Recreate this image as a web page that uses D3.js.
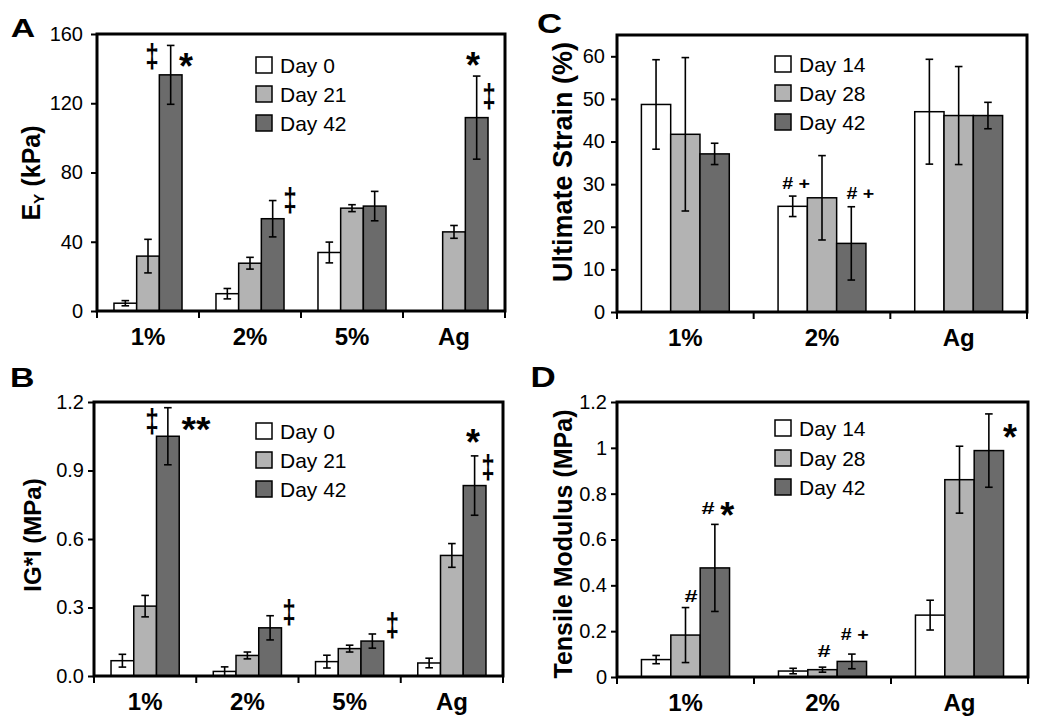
<!DOCTYPE html>
<html>
<head>
<meta charset="utf-8">
<script src="https://cdn.jsdelivr.net/npm/d3@7"></script>
<style>
  html, body { margin: 0; padding: 0; background: #fff; }
  svg { display: block; font-family: "Liberation Sans", Arial, sans-serif; }
</style>
</head>
<body>
<svg id="chart" width="1050" height="722"></svg>
<script>
// ---------------- DATA ----------------
// Panel A: Young's modulus E_Y (kPa)
const catsA = ["1%", "2%", "5%", "Ag"];
const seriesA = ["Day 0", "Day 21", "Day 42"];
const valuesA = [
  [4.5, 10, 33.8, null],
  [31.7, 27.6, 59.4, 45.7],
  [136.4, 53.3, 60.6, 111.7]
];
const errorsA = [
  [1.5, 3, 6, null],
  [9.7, 3.4, 2, 3.7],
  [17, 10.5, 8.5, 24]
];
const ticksA = [0, 40, 80, 120, 160];

// Panel B: |G*| (MPa)
const catsB = ["1%", "2%", "5%", "Ag"];
const seriesB = ["Day 0", "Day 21", "Day 42"];
const valuesB = [
  [0.067, 0.02, 0.063, 0.057],
  [0.306, 0.09, 0.12, 0.528],
  [1.05, 0.211, 0.153, 0.834]
];
const errorsB = [
  [0.028, 0.02, 0.028, 0.021],
  [0.047, 0.015, 0.015, 0.052],
  [0.125, 0.053, 0.031, 0.13]
];
const ticksB = [0, 0.3, 0.6, 0.9, 1.2];

// Panel C: Ultimate strain (%)
const catsC = ["1%", "2%", "Ag"];
const seriesC = ["Day 14", "Day 28", "Day 42"];
const valuesC = [
  [48.7, 24.8, 47.0],
  [41.7, 26.8, 46.1],
  [37.1, 16.1, 46.1]
];
const errorsC = [
  [10.5, 2.4, 12.3],
  [18, 9.9, 11.5],
  [2.5, 8.6, 3.1]
];
const ticksC = [0, 10, 20, 30, 40, 50, 60];

// Panel D: Tensile modulus (MPa)
const catsD = ["1%", "2%", "Ag"];
const seriesD = ["Day 14", "Day 28", "Day 42"];
const valuesD = [
  [0.076, 0.026, 0.27],
  [0.183, 0.032, 0.861],
  [0.476, 0.068, 0.988]
];
const errorsD = [
  [0.018, 0.012, 0.065],
  [0.12, 0.011, 0.146],
  [0.19, 0.032, 0.16]
];
const ticksD = [0, 0.2, 0.4, 0.6, 0.8, 1, 1.2];

// Significance markers: category, slot (bar index, fractional), y in data units (glyph centre)
const marksA = [
  {cat: "1%", slot: 1.18, y: 147.3, sym: "‡"},
  {cat: "1%", slot: 2.68, y: 144.4, sym: "*"},
  {cat: "2%", slot: 2.76, y: 64.1, sym: "‡"},
  {cat: "Ag", slot: 1.84, y: 145, sym: "*"},
  {cat: "Ag", slot: 2.54, y: 124.2, sym: "‡"}
];
const marksB = [
  {cat: "1%", slot: 1.30, y: 1.117, sym: "‡"},
  {cat: "1%", slot: 3.24, y: 1.104, sym: "**"},
  {cat: "2%", slot: 2.83, y: 0.280, sym: "‡"},
  {cat: "5%", slot: 2.87, y: 0.223, sym: "‡"},
  {cat: "Ag", slot: 1.93, y: 1.047, sym: "*"},
  {cat: "Ag", slot: 2.59, y: 0.915, sym: "‡"}
];
const marksC = [
  {cat: "2%", slot: 0.11, y: 30.3, sym: "# +"},
  {cat: "2%", slot: 2.30, y: 27.9, sym: "# +"}
];
const marksD = [
  {cat: "1%", slot: 1.19, y: 0.353, sym: "#"},
  {cat: "1%", slot: 1.77, y: 0.737, sym: "#"},
  {cat: "1%", slot: 2.42, y: 0.729, sym: "*"},
  {cat: "2%", slot: 1.05, y: 0.113, sym: "#"},
  {cat: "2%", slot: 2.09, y: 0.188, sym: "# +"},
  {cat: "Ag", slot: 2.72, y: 1.069, sym: "*"}
];

// ---------------- STYLE / LAYOUT ----------------
const fills = ["#ffffff", "#b3b3b3", "#6b6b6b"];
const FONT = '"Liberation Sans", Arial, sans-serif';
const svg = d3.select("#chart");

// ink box (w,h) of each significance glyph
const symBox = {"‡": [10.5, 26], "*": [14, 14], "**": [29, 13], "#": [12.5, 12], "# +": [27, 12]};

const ctx = document.createElement("canvas").getContext("2d");
// draw a string so that its ink fills a w x h box centred at (cx, cy)
function fitText(parent, str, cx, cy, w, h, weight) {
  ctx.font = `${weight} 100px ${FONT}`;
  const m = ctx.measureText(str);
  const l = -m.actualBoundingBoxLeft, r = m.actualBoundingBoxRight;
  const t = -m.actualBoundingBoxAscent, b = m.actualBoundingBoxDescent;
  const sx = w / (r - l), sy = h / (b - t);
  parent.append("text")
    .attr("transform", `translate(${cx},${cy}) scale(${sx},${sy}) translate(${-(l + r) / 2},${-(t + b) / 2})`)
    .attr("font-size", 100).attr("font-weight", weight)
    .attr("xml:space", "preserve")
    .text(str);
}

const panels = [
  {letter: "A", cats: catsA, series: seriesA, values: valuesA, errors: errorsA, ticks: ticksA,
   fmt: d => String(d), max: 160, box: {x0: 97, x1: 505, y0: 34, y1: 311}, group: 0.667,
   title: "E", sub: "Y", titleRest: " (kPa)", titleSize: 25, titleX: 31, titleY: 173,
   letterBox: [23, 28, 23, 18], labelGap: 14, legendX: 256, legendY: [65, 94, 123], marks: marksA},
  {letter: "B", cats: catsB, series: seriesB, values: valuesB, errors: errorsB, ticks: ticksB,
   fmt: d => d.toFixed(1), max: 1.2, box: {x0: 94, x1: 503, y0: 402, y1: 676}, group: 0.667,
   title: "IG*I (MPa)", titleSize: 24, titleX: 32, titleY: 535,
   letterBox: [22.5, 377, 21, 19], labelGap: 10, legendX: 256, legendY: [431, 460, 489], marks: marksB},
  {letter: "C", cats: catsC, series: seriesC, values: valuesC, errors: errorsC, ticks: ticksC,
   fmt: d => String(d), max: 65, box: {x0: 617, x1: 1027, y0: 35, y1: 312}, group: 0.643,
   title: "Ultimate Strain (%)", titleSize: 27, titleX: 562, titleY: 162,
   letterBox: [550, 23, 23, 20], labelGap: 12, legendX: 775, legendY: [64, 93, 122], marks: marksC},
  {letter: "D", cats: catsD, series: seriesD, values: valuesD, errors: errorsD, ticks: ticksD,
   fmt: d => String(d), max: 1.2, box: {x0: 617, x1: 1028, y0: 402, y1: 677}, group: 0.643,
   title: "Tensile Modulus (MPa)", titleSize: 25, titleX: 563, titleY: 544,
   letterBox: [543.5, 377, 22, 20], labelGap: 10, legendX: 775, legendY: [428, 458, 487], marks: marksD}
];

panels.forEach(p => {
  const g = svg.append("g");
  const b = p.box;

  const x = d3.scaleBand().domain(p.cats).range([b.x0, b.x1]).paddingInner(0).paddingOuter(0);
  const pad = x.bandwidth() * (1 - p.group) / 2;
  const xs = d3.scaleBand().domain(d3.range(p.series.length)).range([pad, x.bandwidth() - pad]).padding(0);
  const y = d3.scaleLinear().domain([0, p.max]).range([b.y1, b.y0]);
  const slotX = (cat, s) => x(cat) + pad + (s + 0.5) * xs.bandwidth();

  // bars
  p.series.forEach((sName, si) => {
    const recs = p.cats.map((c, ci) => ({c, v: p.values[si][ci], e: p.errors[si][ci]}))
      .filter(d => d.v != null);
    g.selectAll(null).data(recs).enter().append("rect")
      .attr("x", d => x(d.c) + xs(si))
      .attr("y", d => y(d.v))
      .attr("width", xs.bandwidth())
      .attr("height", d => y(0) - y(d.v))
      .attr("fill", fills[si])
      .attr("stroke", "#000")
      .attr("stroke-width", 1.5);
    // error bars
    const eb = g.selectAll(null).data(recs).enter().append("g")
      .attr("stroke", "#000").attr("stroke-width", 1.6);
    eb.append("line")
      .attr("x1", d => slotX(d.c, si)).attr("x2", d => slotX(d.c, si))
      .attr("y1", d => y(d.v - d.e)).attr("y2", d => y(d.v + d.e));
    [-1, 1].forEach(sgn => {
      eb.append("line")
        .attr("x1", d => slotX(d.c, si) - 3.8).attr("x2", d => slotX(d.c, si) + 3.8)
        .attr("y1", d => y(d.v + sgn * d.e)).attr("y2", d => y(d.v + sgn * d.e));
    });
  });

  // frame
  g.append("rect")
    .attr("x", b.x0).attr("y", b.y0)
    .attr("width", b.x1 - b.x0).attr("height", b.y1 - b.y0)
    .attr("fill", "none").attr("stroke", "#000").attr("stroke-width", 3);

  // y axis
  const yAxis = g.append("g").attr("transform", `translate(${b.x0},0)`)
    .call(d3.axisLeft(y).tickValues(p.ticks).tickFormat(p.fmt).tickSize(6).tickPadding(p.labelGap - 6));
  yAxis.select(".domain").remove();
  yAxis.selectAll(".tick line").attr("stroke", "#000").attr("stroke-width", 2);
  yAxis.selectAll(".tick text")
    .attr("font-family", FONT)
    .attr("font-size", 20).attr("fill", "#000");

  // x axis: ticks at band boundaries, labels at band centres
  const bounds = p.cats.map(c => x(c)).concat([x.range()[1]]);
  g.selectAll(null).data(bounds).enter().append("line")
    .attr("x1", d => d).attr("x2", d => d)
    .attr("y1", b.y1).attr("y2", b.y1 + 7)
    .attr("stroke", "#000").attr("stroke-width", 2);
  g.selectAll(null).data(p.cats).enter().append("text")
    .attr("x", d => x(d) + x.bandwidth() / 2)
    .attr("y", b.y1 + 34)
    .attr("text-anchor", "middle")
    .attr("font-size", 24).attr("font-weight", "bold")
    .text(d => d);

  // y title
  const t = g.append("text")
    .attr("transform", `translate(${p.titleX},${p.titleY}) rotate(-90)`)
    .attr("text-anchor", "middle")
    .attr("dy", "0.36em")
    .attr("font-size", p.titleSize).attr("font-weight", "bold");
  if (p.sub) {
    t.append("tspan").text(p.title);
    t.append("tspan").attr("font-size", p.titleSize * 0.62).attr("dy", "0.28em").text(p.sub);
    t.append("tspan").attr("dy", "-0.18em").text(p.titleRest);
  } else {
    t.text(p.title);
  }

  // panel letter
  const lb = p.letterBox;
  fitText(g, p.letter, lb[0], lb[1], lb[2], lb[3], "bold");

  // legend
  const lg = g.selectAll(null).data(p.series).enter().append("g")
    .attr("transform", (d, i) => `translate(${p.legendX},${p.legendY[i]})`);
  lg.append("rect").attr("x", 0).attr("y", -8).attr("width", 16).attr("height", 16)
    .attr("fill", (d, i) => fills[i]).attr("stroke", "#000").attr("stroke-width", 1.5);
  lg.append("text").attr("x", 24).attr("y", 7.5)
    .attr("font-size", 21).text(d => d);

  // significance marks
  p.marks.forEach(mk => {
    const [w, h] = symBox[mk.sym];
    fitText(g, mk.sym, slotX(mk.cat, mk.slot), y(mk.y), w, h, "bold");
  });
});
</script>
</body>
</html>
